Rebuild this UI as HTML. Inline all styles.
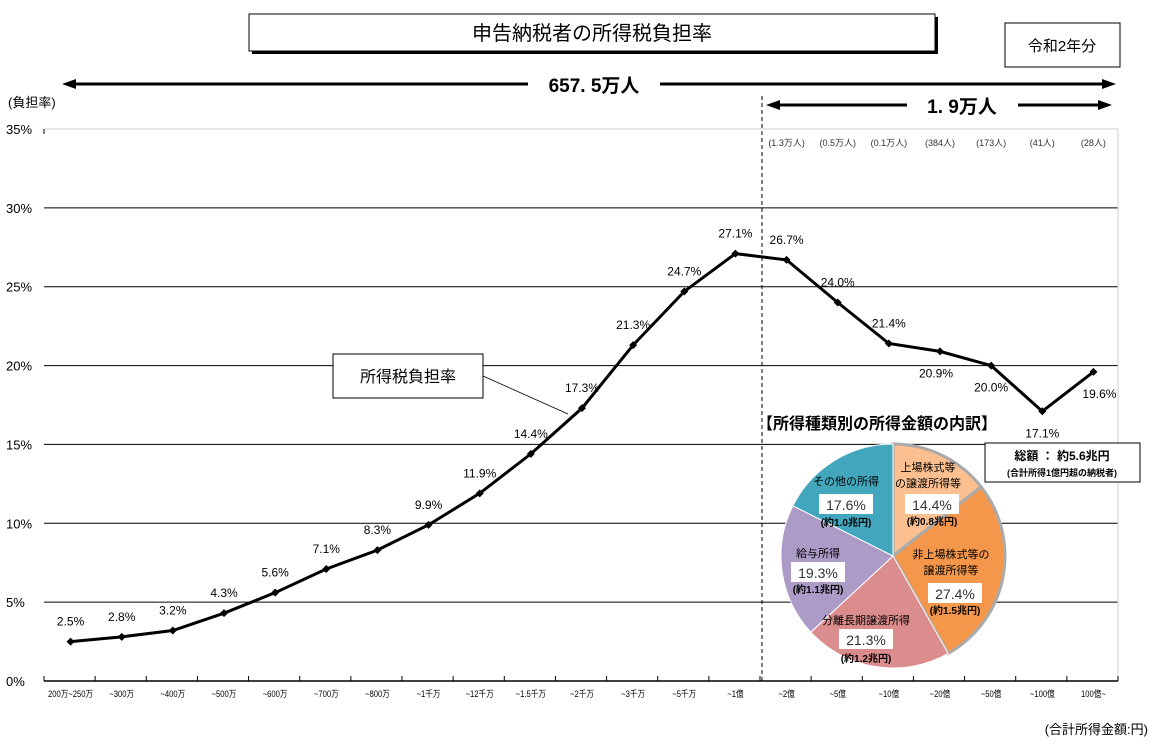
<!DOCTYPE html>
<html><head><meta charset="utf-8"><style>
body{margin:0;background:#fff;width:1149px;height:744px;overflow:hidden}
svg{display:block;font-family:"Liberation Sans","Noto Sans CJK JP",sans-serif}
</style></head><body>
<svg id="c" width="1149" height="744" viewBox="0 0 1149 744">
<rect x="252" y="17" width="686" height="37" fill="#000"/>
<rect x="249" y="14" width="686" height="37" fill="#fff" stroke="#000" stroke-width="1"/>
<text x="592" y="40" font-size="20" text-anchor="middle">申告納税者の所得税負担率</text>
<rect x="1005" y="23" width="115" height="44" fill="#fff" stroke="#000"/>
<text x="1062" y="51" font-size="15" text-anchor="middle">令和2年分</text>
<g>
<line x1="72" y1="84" x2="528" y2="84" stroke="#000" stroke-width="3"/>
<line x1="660" y1="84" x2="1106" y2="84" stroke="#000" stroke-width="3"/>
<polygon points="62,84 76,79 76,89" fill="#000"/><polygon points="1116,84 1102,79 1102,89" fill="#000"/>
<text x="594" y="92" font-size="19" font-weight="bold" text-anchor="middle">657. 5万人</text>
</g>
<g>
<line x1="776" y1="105" x2="907" y2="105" stroke="#000" stroke-width="3"/>
<line x1="1018" y1="105" x2="1100" y2="105" stroke="#000" stroke-width="3"/>
<polygon points="766,105 780,100 780,110" fill="#000"/><polygon points="1112,105 1098,100 1098,110" fill="#000"/>
<text x="962" y="113" font-size="19" font-weight="bold" text-anchor="middle">1. 9万人</text>
</g>
<text x="8" y="107" font-size="13">(負担率)</text>
<text x="1148" y="734" font-size="13" text-anchor="end">(合計所得金額:円)</text>
<g id="grid"></g><g id="axes"></g><g id="line"></g><g id="pie"></g>
<line x1="762" y1="96" x2="762" y2="681" stroke="#000" stroke-dasharray="4,3"/>
<rect x="333" y="354" width="150" height="44" fill="#fff" stroke="#000"/>
<text x="408" y="382" font-size="16" text-anchor="middle">所得税負担率</text>
<line x1="483" y1="376" x2="568" y2="414" stroke="#000" stroke-width="0.8"/>
</svg>
<script>
const categories=["200万~250万","~300万","~400万","~500万","~600万","~700万","~800万","~1千万","~12千万","~1.5千万","~2千万","~3千万","~5千万","~1億","~2億","~5億","~10億","~20億","~50億","~100億","100億~"];
const rates=[2.5,2.8,3.2,4.3,5.6,7.1,8.3,9.9,11.9,14.4,17.3,21.3,24.7,27.1,26.7,24.0,21.4,20.9,20.0,17.1,19.6];
const counts=["(1.3万人)","(0.5万人)","(0.1万人)","(384人)","(173人)","(41人)","(28人)"];
const yTicks=[0,5,10,15,20,25,30,35];
const pieLabels=["上場株式等の譲渡所得等","非上場株式等の譲渡所得等","分離長期譲渡所得","給与所得","その他の所得"];
const pieShares=[14.4,27.4,21.3,19.3,17.6];
const pieAmounts=["(約0.8兆円)","(約1.5兆円)","(約1.2兆円)","(約1.1兆円)","(約1.0兆円)"];
const NS="http://www.w3.org/2000/svg";
const L=44,R=1118,T=129,B=681,n=categories.length,bw=(R-L)/n;
const X=i=>L+bw*(i+0.5)+1;
const Y=v=>B-(v/35)*(B-T);
function el(tag,a,p,txt){const e=document.createElementNS(NS,tag);for(const k in a)e.setAttribute(k,a[k]);if(txt!==undefined)e.textContent=txt;p.appendChild(e);return e;}
const grid=document.getElementById('grid'),axes=document.getElementById('axes'),line=document.getElementById('line'),pie=document.getElementById('pie');
yTicks.forEach(t=>{
 const g=el('line',{x1:L,x2:R,y1:Y(t),y2:Y(t),stroke:t==35?'#ccc':'#000','stroke-width':t==0?1.5:1},grid);
 
 
 const lb=el('text',{x:6,y:Y(t)+5,'font-size':13},axes,t+'%');
 
 
});
el('line',{x1:R,x2:R,y1:T,y2:B,stroke:'#ccc'},grid);
el('line',{x1:L,x2:L,y1:T,y2:T+5,stroke:'#000'},grid);
for(let i=0;i<=n;i++){el('line',{x1:L+bw*i,x2:L+bw*i,y1:B-5,y2:B,stroke:'#000'},axes);}
categories.forEach((c,i)=>{
 const t=el('text',{x:X(i),y:697,'font-size':9,'text-anchor':'middle',transform:`translate(${X(i)},0) scale(0.85,1) translate(${-X(i)},0)`},axes,c);
 
 
});
counts.forEach((c,i)=>{
 const t=el('text',{x:X(14+i),y:146,'font-size':9,'text-anchor':'middle',fill:'#333'},axes,c);
 
 
});
const pl=el('polyline',{points:rates.map((v,i)=>X(i)+','+Y(v)).join(' '),fill:'none',stroke:'#000','stroke-width':3},line);


rates.forEach((v,i)=>{
 const x=X(i),y=Y(v);
 const m=el('polygon',{points:`${x},${y-4} ${x+4},${y} ${x},${y+4} ${x-4},${y}`,fill:'#000'},line);
 
 
 const below=i>=17&&i<=20;
 const t=el('text',{x:x+(i==20?6:i==17?-4:0),y:below?y+26:y-16,'font-size':12,'text-anchor':'middle'},line,v.toFixed(1)+'%');
 
 
});
// pie
const cx=893,cy=556,r=112;
const colors=["#fbbf90","#f5974a","#db8c8c","#ab9bc6","#42a7bd"];
// label layout: [x, first-line y, pct y, amount y]
const layout=[[932,471,506,525],[955,558,595,614],[866,624,641,662],[818,557,574,593],[846,485,506,526]];
const lineSets=[["上場株式等","の譲渡所得等"],["非上場株式等の","譲渡所得等"],["分離長期譲渡所得"],["給与所得"],["その他の所得"]];
const pt=el('text',{x:757,y:429,'font-size':16,'font-weight':'bold'},pie,'【所得種類別の所得金額の内訳】');


let a0=0;const tot=pieShares.reduce((a,b)=>a+b,0);
pieShares.forEach((s,i)=>{
 const a1=a0+s/tot*2*Math.PI;
 const p=(a)=>[cx+r*Math.sin(a),cy-r*Math.cos(a)];
 const [x0,y0]=p(a0),[x1,y1]=p(a1);
 const sl=el('path',{d:`M${cx},${cy} L${x0},${y0} A${r},${r} 0 ${a1-a0>Math.PI?1:0} 1 ${x1},${y1} Z`,fill:colors[i],stroke:i<2?'#aaa':'#fff','stroke-width':i<2?3:1},pie);
 
 
 a0=a1;
});
pieShares.forEach((s,i)=>{
 const [tx,ly,py,ay]=layout[i];
 const g=el('g',{},pie);
 
 
 lineSets[i].forEach((ln,k)=>el('text',{x:i<2?tx-4:tx,y:ly+k*16,'font-size':11,'text-anchor':'middle'},g,ln));
 el('rect',{x:tx-27,y:py-12,width:54,height:20,fill:'#fff'},g);
 el('text',{x:tx,y:py+4,'font-size':14,'text-anchor':'middle',fill:'#333'},g,s.toFixed(1)+'%');
 el('text',{x:tx,y:ay,'font-size':10,'font-weight':'bold','text-anchor':'middle'},g,pieAmounts[i]);
});
const tb=el('g',{},pie);


el('rect',{x:985,y:443,width:155,height:39,fill:'#fff',stroke:'#000'},tb);
el('text',{x:1062,y:460,'font-size':12,'font-weight':'bold','text-anchor':'middle'},tb,'総額 ： 約5.6兆円');
el('text',{x:1062,y:476,'font-size':9,'font-weight':'bold','text-anchor':'middle'},tb,'(合計所得1億円超の納税者)');
</script>
</body></html>
